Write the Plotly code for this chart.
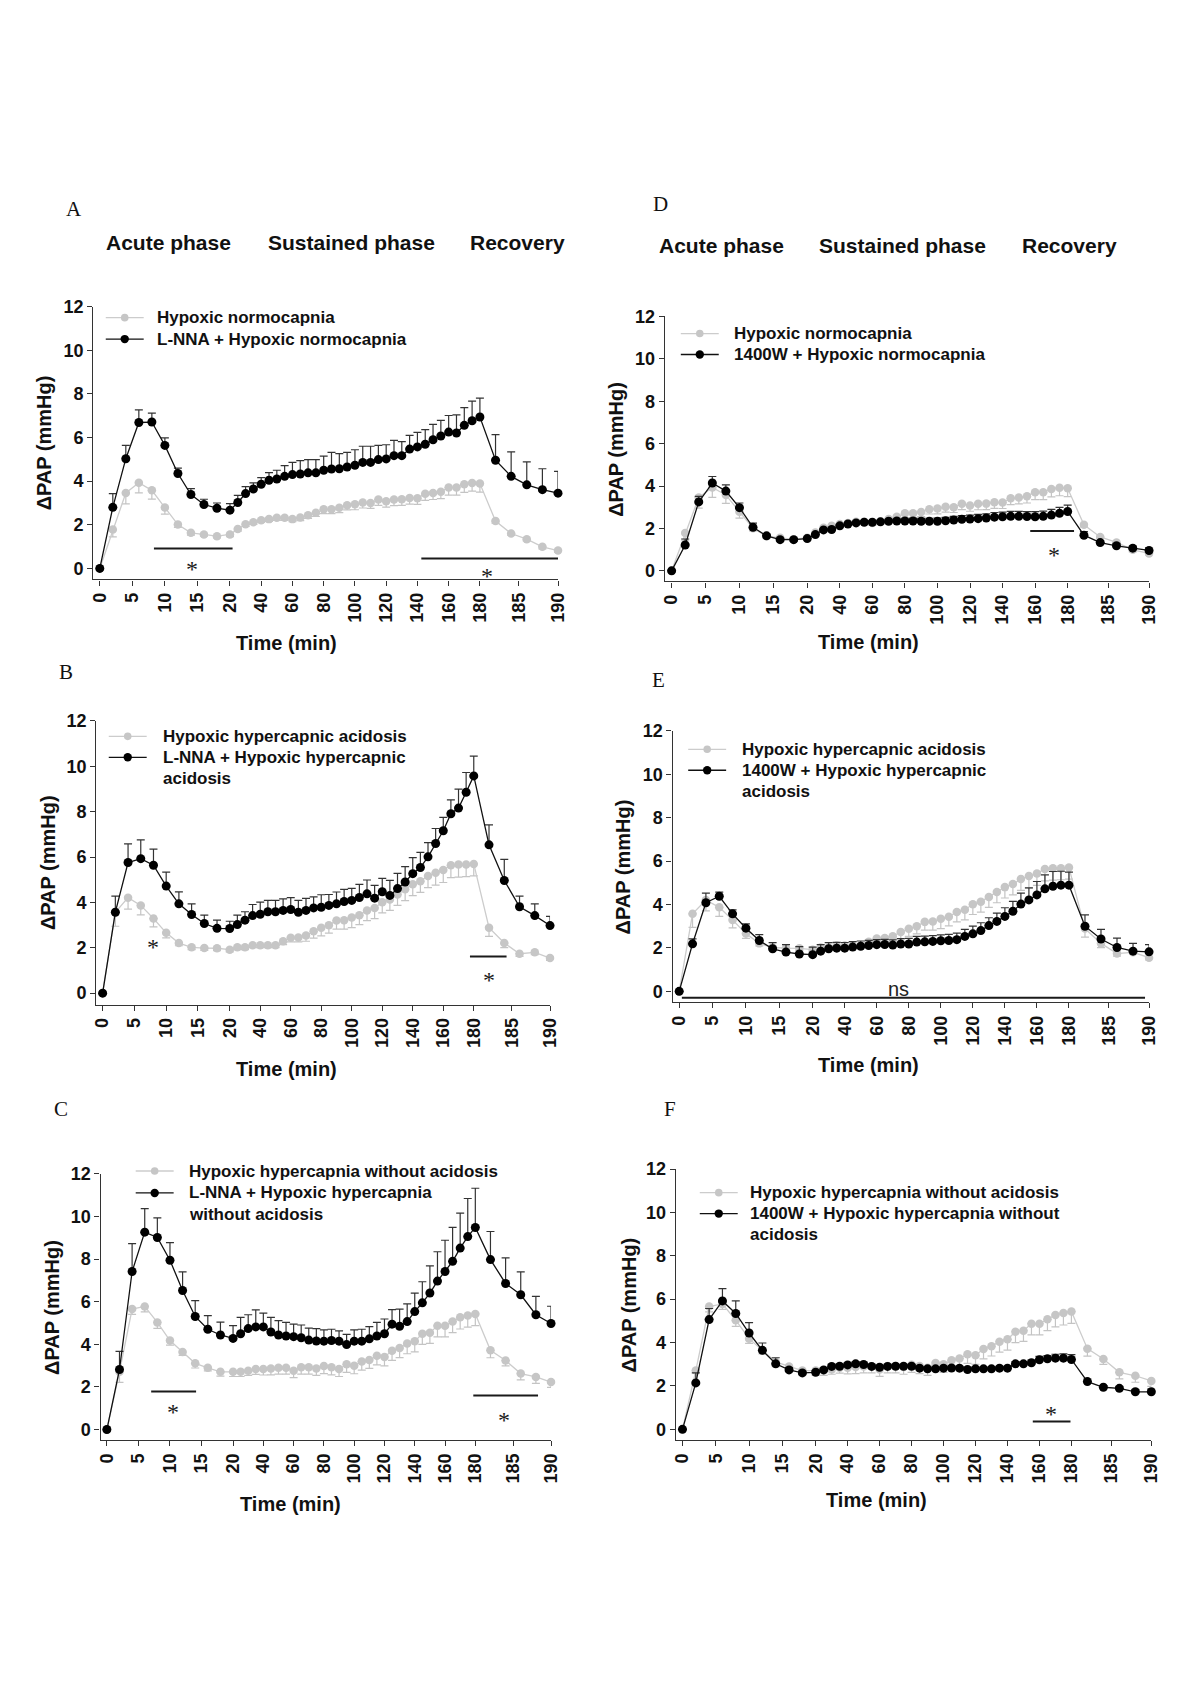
import plotly.graph_objects as go

# ---------------- time grid (min) ----------------
ACUTE_T = [0, 2, 4, 6, 8, 10, 12, 14, 16, 18, 20]
SUSTAINED_T = [25, 30, 35, 40, 45, 50, 55, 60, 65, 70, 75, 80, 85, 90, 95, 100,
               105, 110, 115, 120, 125, 130, 135, 140, 145, 150, 155, 160, 165, 170, 175, 180]
RECOVERY_T = [182, 184, 186, 188, 190]
TIME = ACUTE_T + SUSTAINED_T + RECOVERY_T
TICK_T = [0, 5, 10, 15, 20, 40, 60, 80, 100, 120, 140, 160, 180, 185, 190]
TICK_LABELS = [str(t) for t in TICK_T]
Y_TICKS = [0, 2, 4, 6, 8, 10, 12]

# ---------------- control series (grey) ----------------
NORMO_CTRL = [0, 1.78, 3.46, 3.93, 3.58, 2.79, 2.01, 1.63, 1.56, 1.48, 1.56,
              1.81, 2.03, 2.12, 2.21, 2.26, 2.32, 2.32, 2.26, 2.33, 2.44, 2.55, 2.71, 2.71, 2.78, 2.90, 2.94,
              3.02, 3.00, 3.16, 3.08, 3.16, 3.17, 3.23, 3.22, 3.42, 3.46, 3.52, 3.71, 3.71, 3.86, 3.92, 3.89,
              2.17, 1.60, 1.34, 0.99, 0.82]
NORMO_CTRL_ERR = [0, 0.33, 0.5, 0.47, 0.4, 0.3, 0.13, 0.1, 0.08, 0.08, 0.1,
                  0.1, 0.1, 0.1, 0.1, 0.1, 0.12, 0.12, 0.12, 0.14, 0.15, 0.17, 0.2, 0.2, 0.22, 0.22, 0.25,
                  0.25, 0.25, 0.27, 0.27, 0.28, 0.28, 0.28, 0.28, 0.3, 0.3, 0.32, 0.35, 0.35, 0.37, 0.38, 0.39,
                  0.1, 0.08, 0.08, 0.1, 0.08]
HCA_CTRL = [0, 3.57, 4.21, 3.87, 3.29, 2.66, 2.21, 2.02, 1.99, 1.98, 1.92,
            2.02, 2.02, 2.11, 2.11, 2.11, 2.11, 2.29, 2.44, 2.46, 2.54, 2.73, 2.88, 3.0, 3.2, 3.22, 3.34,
            3.44, 3.65, 3.76, 4.01, 4.13, 4.35, 4.58, 4.8, 4.94, 5.17, 5.31, 5.43, 5.64, 5.67, 5.67, 5.7,
            2.89, 2.21, 1.74, 1.8, 1.55]
HCA_CTRL_ERR = [0, 0.62, 0.5, 0.42, 0.37, 0.22, 0.12, 0.1, 0.1, 0.1, 0.1,
                0.1, 0.1, 0.1, 0.1, 0.1, 0.1, 0.15, 0.18, 0.2, 0.25, 0.3, 0.35, 0.35, 0.38, 0.4, 0.45,
                0.42, 0.45, 0.47, 0.47, 0.48, 0.48, 0.5, 0.5, 0.5, 0.52, 0.55, 0.55, 0.55, 0.55, 0.53, 0.53,
                0.39, 0.2, 0.12, 0.1, 0.1]
HC_CTRL = [0, 2.71, 5.66, 5.78, 5.03, 4.18, 3.64, 3.11, 2.9, 2.71, 2.71,
           2.71, 2.76, 2.84, 2.84, 2.87, 2.9, 2.9, 2.76, 2.92, 2.92, 2.87, 2.98, 2.92, 2.84, 3.06, 3.0,
           3.19, 3.27, 3.46, 3.41, 3.7, 3.83, 4.04, 4.15, 4.5, 4.55, 4.87, 4.87, 5.07, 5.27, 5.36, 5.43,
           3.72, 3.24, 2.63, 2.47, 2.23]
HC_CTRL_ERR = [0, 0.5, 0.25, 0.25, 0.28, 0.22, 0.16, 0.22, 0.15, 0.2, 0.22,
               0.22, 0.22, 0.25, 0.28, 0.3, 0.3, 0.3, 0.32, 0.32, 0.32, 0.33, 0.35, 0.35, 0.35, 0.38, 0.38,
               0.4, 0.4, 0.42, 0.42, 0.45, 0.45, 0.48, 0.5, 0.5, 0.5, 0.52, 0.52, 0.52, 0.55, 0.55, 0.55,
               0.35, 0.25, 0.3, 0.3, 0.25]

# ---------------- treated series (black) ----------------
LNNA_NORMO = [0, 2.8, 5.03, 6.69, 6.71, 5.64, 4.35, 3.39, 2.93, 2.76, 2.67,
              3.02, 3.43, 3.64, 3.86, 4.04, 4.10, 4.22, 4.30, 4.33, 4.38, 4.38, 4.50, 4.56, 4.57, 4.65, 4.73,
              4.86, 4.86, 4.99, 5.02, 5.17, 5.17, 5.47, 5.57, 5.69, 5.90, 6.07, 6.25, 6.21, 6.56, 6.77, 6.94,
              4.96, 4.22, 3.83, 3.61, 3.45]
LNNA_NORMO_ERR = [0, 0.63, 0.61, 0.58, 0.41, 0.34, 0.25, 0.27, 0.24, 0.24, 0.30,
                  0.33, 0.32, 0.28, 0.30, 0.35, 0.40, 0.49, 0.56, 0.61, 0.61, 0.61, 0.65, 0.76, 0.69, 0.67, 0.71,
                  0.74, 0.74, 0.65, 0.65, 0.70, 0.64, 0.63, 0.67, 0.67, 0.70, 0.72, 0.76, 0.83, 0.81, 0.90, 0.87,
                  1.17, 1.12, 1.05, 0.96, 1.0]
LNNA_HCA = [0, 3.57, 5.76, 5.93, 5.64, 4.72, 3.94, 3.47, 3.07, 2.86, 2.85,
            3.03, 3.22, 3.42, 3.48, 3.59, 3.59, 3.65, 3.69, 3.57, 3.65, 3.76, 3.79, 3.87, 3.94, 4.04, 4.09,
            4.22, 4.38, 4.19, 4.47, 4.31, 4.61, 4.90, 5.27, 5.54, 6.01, 6.60, 7.16, 7.91, 8.16, 8.86, 9.58,
            6.54, 4.97, 3.81, 3.42, 2.98]
LNNA_HCA_ERR = [0, 0.71, 0.82, 0.83, 0.71, 0.62, 0.53, 0.47, 0.37, 0.36, 0.32,
                0.41, 0.37, 0.49, 0.53, 0.50, 0.50, 0.51, 0.52, 0.52, 0.53, 0.49, 0.55, 0.48, 0.52, 0.54, 0.53,
                0.58, 0.61, 0.56, 0.59, 0.66, 0.67, 0.68, 0.71, 0.67, 0.63, 0.66, 0.59, 0.61, 0.84, 0.87, 0.87,
                0.88, 0.93, 0.47, 0.52, 0.41]
LNNA_HC = [0, 2.82, 7.42, 9.27, 9.02, 7.95, 6.53, 5.31, 4.71, 4.44, 4.28,
           4.5, 4.74, 4.82, 4.82, 4.58, 4.44, 4.39, 4.36, 4.31, 4.2, 4.16, 4.15, 4.18, 4.15, 3.99, 4.15,
           4.15, 4.26, 4.39, 4.5, 4.95, 4.85, 5.07, 5.54, 5.95, 6.41, 6.97, 7.42, 7.9, 8.52, 9.06, 9.49,
           7.98, 6.86, 6.33, 5.39, 4.98]
LNNA_HC_ERR = [0, 0.85, 1.31, 1.1, 0.92, 0.83, 0.87, 0.74, 0.64, 0.6, 0.6,
               0.77, 0.65, 0.8, 0.65, 0.69, 0.67, 0.64, 0.59, 0.6, 0.56, 0.58, 0.53, 0.53, 0.48, 0.48, 0.53,
               0.56, 0.57, 0.64, 0.69, 0.68, 0.8, 0.83, 0.87, 0.99, 1.28, 1.38, 1.47, 1.59, 1.64, 1.79, 1.84,
               1.32, 1.2, 1.07, 0.86, 0.81]
W1400_NORMO = [0, 1.22, 3.25, 4.14, 3.76, 2.98, 2.05, 1.65, 1.47, 1.47, 1.52,
               1.71, 1.93, 1.95, 2.12, 2.21, 2.26, 2.29, 2.29, 2.31, 2.34, 2.35, 2.35, 2.35, 2.34, 2.34, 2.34,
               2.36, 2.4, 2.43, 2.44, 2.46, 2.49, 2.53, 2.55, 2.57, 2.57, 2.56, 2.55, 2.57, 2.63, 2.71, 2.8,
               1.68, 1.33, 1.18, 1.07, 0.96]
W1400_NORMO_ERR = [0, 0.28, 0.26, 0.31, 0.29, 0.22, 0.2, 0.08, 0.06, 0.06, 0.06,
                   0.06, 0.06, 0.06, 0.07, 0.07, 0.07, 0.08, 0.08, 0.08, 0.09, 0.1, 0.1, 0.12, 0.13, 0.14, 0.15,
                   0.16, 0.17, 0.18, 0.19, 0.2, 0.2, 0.22, 0.22, 0.23, 0.23, 0.23, 0.24, 0.25, 0.27, 0.28, 0.3,
                   0.17, 0.1, 0.1, 0.1, 0.12]
W1400_HCA = [0, 2.19, 4.08, 4.38, 3.57, 2.91, 2.34, 1.96, 1.81, 1.72, 1.69,
             1.85, 1.96, 1.99, 1.99, 2.04, 2.08, 2.11, 2.15, 2.16, 2.13, 2.18, 2.18, 2.27, 2.28, 2.3, 2.33,
             2.34, 2.38, 2.53, 2.65, 2.8, 3.03, 3.22, 3.45, 3.69, 4.02, 4.21, 4.44, 4.72, 4.84, 4.89, 4.89,
             3.0, 2.41, 2.02, 1.85, 1.82]
W1400_HCA_ERR = [0, 0.23, 0.44, 0.19, 0.18, 0.2, 0.27, 0.28, 0.34, 0.34, 0.35,
                 0.3, 0.28, 0.27, 0.26, 0.25, 0.24, 0.24, 0.23, 0.23, 0.24, 0.25, 0.26, 0.26, 0.26, 0.27, 0.27,
                 0.28, 0.3, 0.32, 0.35, 0.36, 0.36, 0.38, 0.4, 0.45, 0.5, 0.56, 0.62, 0.64, 0.68, 0.64, 0.6,
                 0.52, 0.44, 0.43, 0.36, 0.33]
W1400_HC = [0, 2.14, 5.06, 5.92, 5.34, 4.44, 3.64, 3.02, 2.74, 2.6, 2.63,
            2.74, 2.9, 2.91, 2.97, 3.02, 2.99, 2.9, 2.86, 2.9, 2.91, 2.91, 2.91, 2.82, 2.79, 2.79, 2.82,
            2.83, 2.82, 2.76, 2.79, 2.79, 2.79, 2.82, 2.82, 3.02, 3.02, 3.07, 3.21, 3.25, 3.28, 3.28, 3.22,
            2.2, 1.94, 1.89, 1.73, 1.73]
W1400_HC_ERR = [0, 0.46, 0.51, 0.57, 0.58, 0.48, 0.34, 0.28, 0.1, 0.08, 0.08,
                0.08, 0.08, 0.1, 0.1, 0.1, 0.1, 0.08, 0.08, 0.08, 0.08, 0.08, 0.08, 0.08, 0.08, 0.08, 0.08,
                0.08, 0.08, 0.08, 0.08, 0.08, 0.08, 0.08, 0.08, 0.1, 0.1, 0.12, 0.15, 0.15, 0.18, 0.2, 0.22,
                0.12, 0.08, 0.08, 0.1, 0.12]


# ---------------- segmented time axis ----------------
def tpos(t):
    if t <= 20:
        return t / 20.0
    if t <= 180:
        return 1.0 + (t - 20) / 160.0 * 1.92
    return 2.92 + (t - 180) / 10.0 * 0.6


X = [tpos(t) for t in TIME]
TICK_POS = [tpos(t) for t in TICK_T]

# ---------------- page geometry ----------------
W, H, OFF = 1184, 1682, 8


def PX(x):
    x = 1.0103 * x - 3.2
    return (x - OFF) / W


def PY(y):
    y = 1.0029 * y - 9.5
    return 1 - (y - OFF) / H


SANS = "Liberation Sans, Arial, sans-serif"
SERIF = "Liberation Serif, Times New Roman, serif"
GREY = "#c6c6c6"
BLACK = "#000000"

panels = [
    dict(letter="A", ctrl=NORMO_CTRL, cerr=NORMO_CTRL_ERR, trt=LNNA_NORMO, terr=LNNA_NORMO_ERR,
         clab=["Hypoxic normocapnia"], tlab=["L-NNA + Hypoxic normocapnia"],
         box=(92.5, 558, 307, 580.5), letter_xy=(72.7, 209.4), leg=(124, 154, 318, 21.5),
         ytitle=(43.5,), xtitle=(286.5, 644.5),
         bars=[(0.416, 1.02, 0.91), (2.47, 3.52, 0.46)], stars=[(0.705, 0.25), (2.976, -0.07)]),
    dict(letter="B", ctrl=HCA_CTRL, cerr=HCA_CTRL_ERR, trt=LNNA_HCA, terr=LNNA_HCA_ERR,
         clab=["Hypoxic hypercapnic acidosis"], tlab=["L-NNA + Hypoxic hypercapnic", "acidosis"],
         box=(95.5, 550, 722.6, 1007), letter_xy=(65, 673.8), leg=(127, 160.6, 738, 21),
         ytitle=(46.5,), xtitle=(286.5, 1072),
         bars=[(2.89, 3.178, 1.62)], stars=[(0.40, 2.29), (3.037, 0.84)]),
    dict(letter="C", ctrl=HC_CTRL, cerr=HC_CTRL_ERR, trt=LNNA_HC, terr=LNNA_HC_ERR,
         clab=["Hypoxic hypercapnia without acidosis"], tlab=["L-NNA + Hypoxic hypercapnia", "without acidosis"],
         box=(99.8, 551, 1177, 1444), letter_xy=(59.7, 1112), leg=(154, 186.6, 1174, 22),
         ytitle=(51,), xtitle=(289.7, 1508),
         bars=[(0.351, 0.707, 1.79), (2.904, 3.417, 1.6)], stars=[(0.522, 1.12), (3.146, 0.72)]),
    dict(letter="D", ctrl=NORMO_CTRL, cerr=NORMO_CTRL_ERR, trt=W1400_NORMO, terr=W1400_NORMO_ERR,
         clab=["Hypoxic normocapnia"], tlab=["1400W + Hypoxic normocapnia"],
         box=(665, 1150, 316.8, 582.6), letter_xy=(660.8, 204), leg=(700, 732, 334, 21),
         ytitle=(616,), xtitle=(869, 643),
         bars=[(2.644, 2.967, 1.88)], stars=[(2.818, 1.02)]),
    dict(letter="E", ctrl=HCA_CTRL, cerr=HCA_CTRL_ERR, trt=W1400_HCA, terr=W1400_HCA_ERR,
         clab=["Hypoxic hypercapnic acidosis"], tlab=["1400W + Hypoxic hypercapnic", "acidosis"],
         box=(672.7, 1150, 732.4, 1004.7), letter_xy=(658.6, 681.4), leg=(707.4, 740, 751, 21),
         ytitle=(624,), xtitle=(869, 1067.6),
         bars=[(0.02, 3.49, -0.29)], stars=[], ns=(1.64, 0.12)),
    dict(letter="F", ctrl=HC_CTRL, cerr=HC_CTRL_ERR, trt=W1400_HC, terr=W1400_HC_ERR,
         clab=["Hypoxic hypercapnia without acidosis"], tlab=["1400W + Hypoxic hypercapnia without", "acidosis"],
         box=(676, 1152.3, 1172, 1444), letter_xy=(670.5, 1112), leg=(719, 748.6, 1195.7, 21),
         ytitle=(629,), xtitle=(876.7, 1504),
         bars=[(2.63, 2.913, 0.36)], stars=[(2.77, 1.0)]),
]

fig = go.Figure()
shapes = []
annotations = []
layout = {}
TICKFONT = dict(family=SANS, size=18, color="#111111")

for i, p in enumerate(panels):
    k = "" if i == 0 else str(i + 1)
    xa, ya = "x" + k, "y" + k
    L, R, T, B = p["box"]
    layout["xaxis" + k] = dict(
        domain=[PX(L), PX(R)], anchor=ya, range=[-0.05, 3.52],
        tickmode="array", tickvals=TICK_POS, ticktext=["<b>" + s + "</b>" for s in TICK_LABELS],
        tickangle=-90,
        showline=True, linecolor="#333333", linewidth=1.4, ticks="outside", ticklen=5,
        tickwidth=1.3, tickcolor="#333333", showgrid=False, zeroline=False, tickfont=TICKFONT)
    layout["yaxis" + k] = dict(
        domain=[PY(B), PY(T)], anchor=xa, range=[-0.5, 12],
        tickmode="array", tickvals=Y_TICKS, ticktext=["<b>%d</b>" % v for v in Y_TICKS],
        showline=True, linecolor="#333333", linewidth=1.4, ticks="outside", ticklen=5,
        tickwidth=1.3, tickcolor="#333333", showgrid=False, zeroline=False, tickfont=TICKFONT)

    n = len(X)
    fig.add_trace(go.Scatter(
        x=X, y=p["ctrl"], xaxis=xa, yaxis=ya, mode="lines+markers", cliponaxis=False,
        line=dict(color="#cccccc", width=1.3),
        marker=dict(color=GREY, size=8.5, line=dict(width=0)),
        error_y=dict(type="data", symmetric=False, array=[0] * n, arrayminus=p["cerr"],
                     color="#c4c4c4", thickness=1.2, width=4),
        showlegend=False, name=p["clab"][0]))
    fig.add_trace(go.Scatter(
        x=X, y=p["trt"], xaxis=xa, yaxis=ya, mode="lines+markers", cliponaxis=False,
        line=dict(color="#111111", width=1.3),
        marker=dict(color=BLACK, size=9, line=dict(width=0)),
        error_y=dict(type="data", symmetric=False, array=p["terr"], arrayminus=[0] * n,
                     color="#333333", thickness=1.2, width=4),
        showlegend=False, name=p["tlab"][0]))

    # significance bars / asterisks
    for (x0, x1, yb) in p["bars"]:
        shapes.append(dict(type="line", xref=xa, yref=ya, x0=x0, x1=x1, y0=yb, y1=yb,
                           line=dict(color="#1a1a1a", width=2)))
    for (xs, ys) in p["stars"]:
        annotations.append(dict(xref=xa, yref=ya, x=xs, y=ys, text="*", showarrow=False,
                                xanchor="center", yanchor="middle", yshift=-6,
                                font=dict(family=SERIF, size=24, color="#1a1a1a")))
    if "ns" in p:
        annotations.append(dict(xref=xa, yref=ya, x=p["ns"][0], y=p["ns"][1], text="ns",
                                showarrow=False, xanchor="center", yanchor="middle",
                                font=dict(family=SANS, size=20, color="#222222")))

    # panel letter
    lx, ly = p["letter_xy"]
    annotations.append(dict(xref="paper", yref="paper", x=PX(lx), y=PY(ly), text=p["letter"],
                            showarrow=False, xanchor="center", yanchor="middle",
                            font=dict(family=SERIF, size=21, color="#111111")))
    # axis titles
    annotations.append(dict(xref="paper", yref="paper", x=PX(p["ytitle"][0]), y=PY((T + B) / 2),
                            text="<b>ΔPAP (mmHg)</b>", textangle=-90, showarrow=False,
                            xanchor="center", yanchor="middle",
                            font=dict(family=SANS, size=20, color="#111111")))
    annotations.append(dict(xref="paper", yref="paper", x=PX(p["xtitle"][0]), y=PY(p["xtitle"][1]),
                            text="<b>Time (min)</b>", showarrow=False, xanchor="center", yanchor="middle",
                            font=dict(family=SANS, size=20, color="#111111")))

    # legend (manual)
    mx, tx, ly0, dy = p["leg"]
    rows = [(p["clab"], "#cccccc", GREY, 3.8), (p["tlab"], "#111111", BLACK, 4.2)]
    yy = ly0
    for labels, lcol, mcol, r in rows:
        shapes.append(dict(type="line", xref="paper", yref="paper", x0=PX(mx - 19), x1=PX(mx + 19),
                           y0=PY(yy), y1=PY(yy), line=dict(color=lcol, width=1.3)))
        shapes.append(dict(type="circle", xref="paper", yref="paper", x0=PX(mx - r), x1=PX(mx + r),
                           y0=PY(yy + r), y1=PY(yy - r), fillcolor=mcol, line=dict(width=0)))
        for lab in labels:
            annotations.append(dict(xref="paper", yref="paper", x=PX(tx), y=PY(yy), text="<b>" + lab + "</b>",
                                    showarrow=False, xanchor="left", yanchor="middle",
                                    font=dict(family=SANS, size=17, color="#111111")))
            yy += dy

# phase headers above A and D
for (cx, cy, txt) in [(168, 243, "Acute phase"), (351, 243, "Sustained phase"), (517.5, 243, "Recovery"),
                      (721.5, 246, "Acute phase"), (903, 246, "Sustained phase"), (1070, 246, "Recovery")]:
    annotations.append(dict(xref="paper", yref="paper", x=PX(cx), y=PY(cy), text="<b>" + txt + "</b>",
                            showarrow=False, xanchor="center", yanchor="middle",
                            font=dict(family=SANS, size=21, color="#111111")))

fig.update_layout(**layout)
fig.update_layout(width=W, height=H, autosize=False, margin=dict(l=0, r=0, t=0, b=0),
                  paper_bgcolor="white", plot_bgcolor="white", showlegend=False,
                  shapes=shapes, annotations=annotations)
fig.write_html("out.html")
